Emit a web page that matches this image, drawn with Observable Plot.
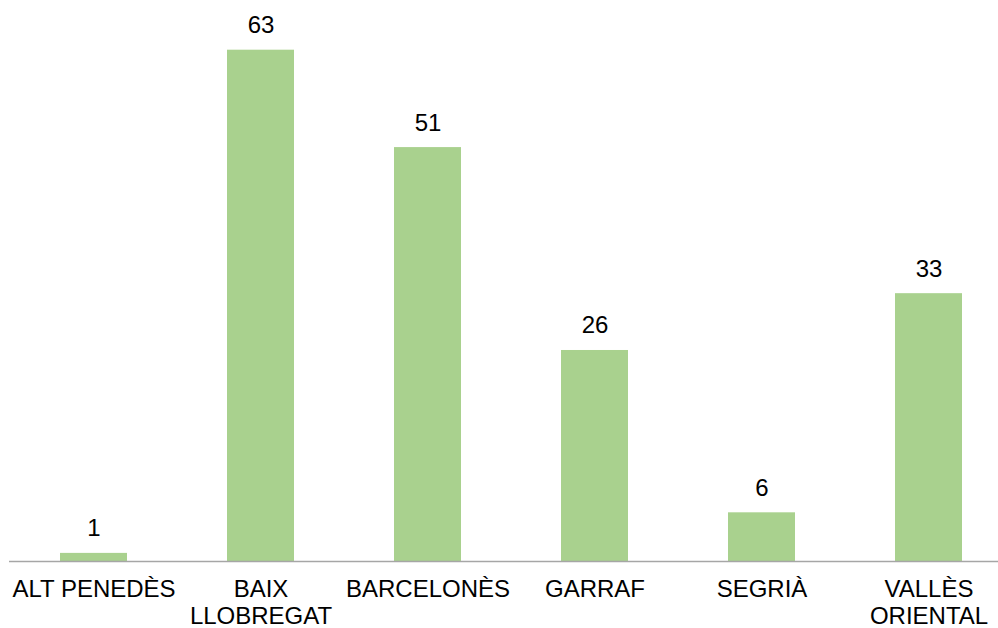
<!DOCTYPE html>
<html>
<head>
<meta charset="utf-8">
<script src="https://cdn.jsdelivr.net/npm/d3@7"></script>
<script src="https://cdn.jsdelivr.net/npm/@observablehq/plot@0.6"></script>
<style>
  html, body { margin: 0; padding: 0; background: #fff; }
</style>
</head>
<body>
<div id="chart"></div>
<script>
const categories = ["ALT PENEDÈS", "BAIX LLOBREGAT", "BARCELONÈS", "GARRAF", "SEGRIÀ", "VALLÈS ORIENTAL"];
const values = [1, 63, 51, 26, 6, 33];
const tickLabels = ["ALT PENEDÈS", "BAIX\nLLOBREGAT", "BARCELONÈS", "GARRAF", "SEGRIÀ", "VALLÈS\nORIENTAL"];

const data = categories.map((c, i) => ({category: c, value: values[i], label: tickLabels[i]}));
const labelOf = new Map(categories.map((c, i) => [c, tickLabels[i]]));

const chart = Plot.plot({
  width: 998,
  height: 628,
  marginTop: 1,
  marginBottom: 67,
  marginLeft: 9,
  marginRight: -14,
  style: {fontFamily: "'Liberation Sans', Arial, sans-serif", fontSize: "24px", color: "#000", background: "#fff"},
  x: {domain: categories, paddingInner: 0.6, paddingOuter: 0.3, label: null},
  y: {domain: [0, 69], axis: null},
  marks: [
    Plot.barY(data, {x: "category", y: "value", fill: "#a9d18e"}),
    Plot.ruleY([0], {stroke: "#a6a6a6", strokeWidth: 1.5}),
    Plot.text(data, {x: "category", y: "value", text: d => String(d.value), lineAnchor: "bottom", dy: -17, fontSize: 24, fill: "#000"}),
    Plot.axisX({tickSize: 0, tickPadding: 17, fontSize: 24, lineHeight: 1.1, tickFormat: d => labelOf.get(d), label: null, fill: "#000"})
  ]
});
document.getElementById("chart").appendChild(chart);
</script>
</body>
</html>
